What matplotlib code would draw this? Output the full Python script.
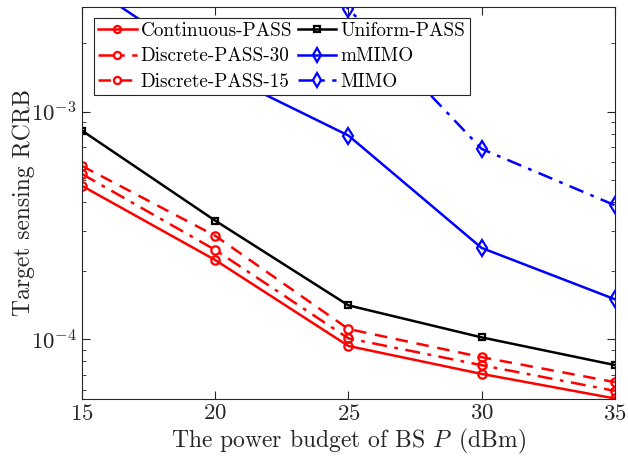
import matplotlib
matplotlib.use("Agg")
import matplotlib.pyplot as plt
from matplotlib.ticker import LogLocator, NullFormatter

plt.rcParams['font.family'] = ['cmr10', 'DejaVu Serif']
plt.rcParams['mathtext.fontset'] = 'cm'
plt.rcParams['axes.formatter.use_mathtext'] = True
plt.rcParams['axes.unicode_minus'] = False

power_dbm = [15, 20, 25, 30, 35]
continuous_pass = [4.72e-4, 2.23e-4, 9.35e-5, 7.05e-5, 5.50e-5]
discrete_pass_30 = [5.32e-4, 2.47e-4, 1.01e-4, 7.70e-5, 5.94e-5]
discrete_pass_15 = [5.77e-4, 2.85e-4, 1.11e-4, 8.35e-5, 6.49e-5]
uniform_pass = [8.25e-4, 3.32e-4, 1.41e-4, 1.02e-4, 7.71e-5]
mmimo = [3.75e-3, 1.52e-3, 7.85e-4, 2.52e-4, 1.50e-4]
mimo = [2.5e-2, 9.0e-3, 2.83e-3, 6.86e-4, 3.88e-4]

fig = plt.figure(figsize=(6.28, 4.57), dpi=100)
ax = fig.add_axes([0.1306, 0.1269, 0.8484, 0.8578])

red = '#ff0000'
blue = '#0000ff'
lw = 1.8
mew = 1.6
ax.plot(power_dbm, continuous_pass, '-', color=red, lw=lw, marker='o', ms=6,
        mfc='none', mew=mew, label='Continuous-PASS')
ax.plot(power_dbm, discrete_pass_30, color=red, lw=lw, ls=(0, (6, 3, 1.5, 3)),
        marker='o', ms=6, mfc='none', mew=mew, label='Discrete-PASS-30')
ax.plot(power_dbm, discrete_pass_15, color=red, lw=lw, ls=(0, (5, 3.5)),
        marker='o', ms=6, mfc='none', mew=mew, label='Discrete-PASS-15')
ax.plot(power_dbm, uniform_pass, '-', color='black', lw=lw, marker='s', ms=5,
        mfc='none', mew=mew, label='Uniform-PASS')
ax.plot(power_dbm, mmimo, '-', color=blue, lw=lw, marker='d', ms=8.5,
        mfc='none', mew=mew, label='mMIMO')
ax.plot(power_dbm, mimo, color=blue, lw=lw, ls=(0, (6, 3, 1.5, 3)),
        marker='d', ms=8.5, mfc='none', mew=mew, label='MIMO')

ax.set_yscale('log')
ax.set_xlim(15, 35)
ax.set_ylim(5.47e-5, 2.88e-3)
ax.set_xticks(power_dbm)
ax.yaxis.set_minor_locator(LogLocator(base=10, subs=range(2, 10), numticks=20))
ax.yaxis.set_minor_formatter(NullFormatter())

axc = '#262626'
for s in ax.spines.values():
    s.set_color(axc)
    s.set_linewidth(0.8)
ax.tick_params(which='both', direction='in', top=True, right=True, colors=axc,
               labelcolor='#262626', labelsize=16.5)
ax.tick_params(which='major', length=6)
ax.tick_params(which='minor', length=3)

ax.set_xlabel('The power budget of BS $P\\,$ (dBm)', fontsize=17,
              color='#262626', labelpad=2)
ax.set_ylabel('Target sensing RCRB', fontsize=17, color='#262626', labelpad=-3)

leg = ax.legend(ncol=2, loc='upper left', bbox_to_anchor=(0.0225, 0.972),
                borderaxespad=0, fontsize=13.8, fancybox=False, framealpha=1,
                edgecolor=axc, handlelength=2.0, handletextpad=0.22,
                columnspacing=0.3, labelspacing=0.38, borderpad=0.22,
                markerscale=0.85)
leg.get_frame().set_linewidth(0.8)

fig.savefig('out.png', dpi=100)
